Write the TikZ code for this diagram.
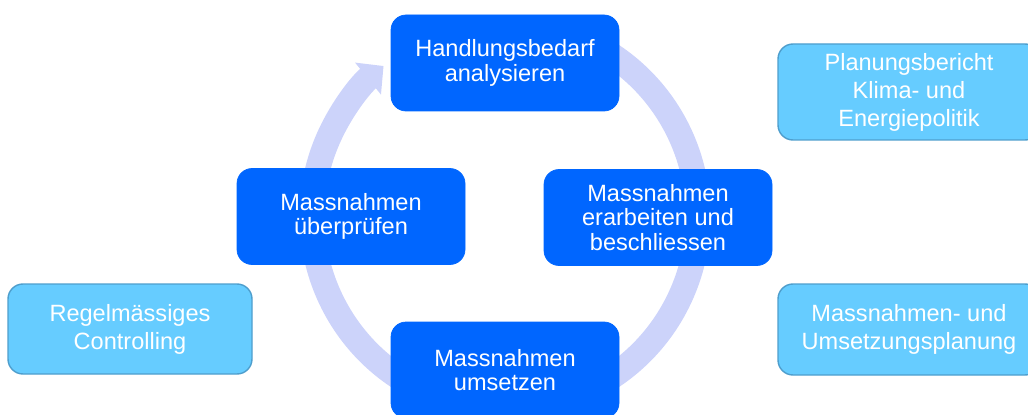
\documentclass[tikz,border=0pt]{standalone}
\usepackage{fontspec}
\setmainfont{Liberation Sans}
\usetikzlibrary{arrows.meta}

\definecolor{stepblue}{RGB}{0,102,255}
\definecolor{infoblue}{RGB}{102,204,255}
\definecolor{infoedge}{RGB}{78,158,205}
\definecolor{ringblue}{RGB}{204,211,250}

\begin{document}
\begin{tikzpicture}[
        stepbox/.style = {draw = stepblue, fill = stepblue, rounded corners = 0.3cm, minimum width = 4.56cm, minimum height = 1.92cm, align = center, text = white, font = \fontsize{13.4}{13.8}\selectfont},
        infobox/.style = {draw = infoedge, fill = infoblue, line width = 0.8pt, rounded corners = 0.3cm, align = center, text = white, font = \fontsize{13.4}{15.9}\selectfont}
    ]
        \useasboundingbox (0, 0) rectangle (20.56, 8.28);
        \coordinate (centre) at (10.1, 3.96);
        % circular arrow behind the four steps
        \draw[ringblue, line width = 0.5cm, -{Triangle[width = 0.8cm, length = 0.4cm]}] ([shift = {(65:3.86)}]centre) arc[start angle = 65, end angle = -231, radius = 3.86];

        \node[stepbox] (analyse) at (10.1, 7.02) {Handlungsbedarf\\analysieren};
        \node[stepbox] (decide) at (13.16, 3.93) {Massnahmen\\erarbeiten und\\beschliessen};
        \node[stepbox] (implement) at (10.1, 0.88) {Massnahmen\\umsetzen};
        \node[stepbox] (review) at (7.02, 3.95) {Massnahmen\\überprüfen};

        \node[infobox, minimum width = 5.24cm, minimum height = 1.92cm] (report) at (18.18, 6.44) {Planungsbericht\\Klima- und\\Energiepolitik};
        \node[infobox, minimum width = 5.24cm, minimum height = 1.82cm] (planning) at (18.18, 1.69) {Massnahmen- und\\Umsetzungsplanung};
        \node[infobox, minimum width = 4.88cm, minimum height = 1.8cm] (controlling) at (2.6, 1.7) {Regelmässiges\\Controlling};
    \end{tikzpicture}
\end{document}
